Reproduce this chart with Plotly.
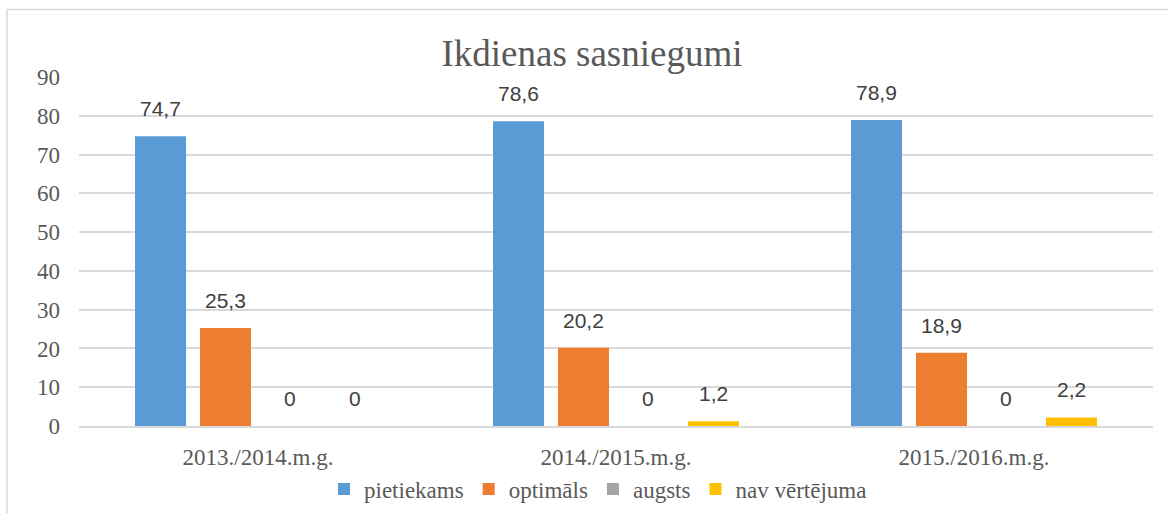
import plotly.graph_objects as go

categories = ["2013./2014.m.g.", "2014./2015.m.g.", "2015./2016.m.g."]
series_names = ["pietiekams", "optimāls", "augsts", "nav vērtējuma"]
pietiekams = [74.7, 78.6, 78.9]
optimals = [25.3, 20.2, 18.9]
augsts = [0, 0, 0]
nav_vertejuma = [0, 1.2, 2.2]
colors = ["#5B9BD5", "#ED7D31", "#A5A5A5", "#FFC000"]
y_ticks = [0, 10, 20, 30, 40, 50, 60, 70, 80, 90]

series = [pietiekams, optimals, augsts, nav_vertejuma]

W, H = 1168, 513
ML, MR, MT, MB = 79, 15, 77, 87
plot_w = W - ML - MR
plot_h = H - MT - MB

fig = go.Figure()
for name, vals, col in zip(series_names, series, colors):
    fig.add_trace(go.Bar(
        x=categories, y=vals, name=name, marker=dict(color=col, line=dict(width=0)),
    ))

# data labels via annotations, offset horizontally to each bar slot
bargap = 0.274
slot = plot_w / len(categories) * (1 - bargap) / len(series)
for i, vals in enumerate(series):
    for c, v in zip(categories, vals):
        fig.add_annotation(
            x=c, y=v, xref="x", yref="y",
            text=(f"{v:g}").replace(".", ","),
            showarrow=False, yanchor="bottom", yshift=14,
            xshift=(i - 1.5) * slot,
            font=dict(family="Liberation Sans", size=21, color="#404040"),
        )

# chart frame (top and left light border)
fx = (7 - ML) / plot_w
fy = (H - MB - 9.5) / plot_h
fig.add_shape(type="line", xref="paper", yref="paper", x0=fx, x1=(W - ML) / plot_w + 0.01,
              y0=fy, y1=fy, line=dict(color="#D9D9D9", width=1.5))
fig.add_shape(type="line", xref="paper", yref="paper", x0=fx, x1=fx,
              y0=fy, y1=-(MB + 5) / plot_h, line=dict(color="#D9D9D9", width=1.5))

serif = "Liberation Serif"
fig.update_layout(
    width=W, height=H,
    margin=dict(l=ML, r=MR, t=MT, b=MB, autoexpand=False),
    paper_bgcolor="white", plot_bgcolor="white",
    barmode="group", bargap=bargap, bargroupgap=0.215,
    title=dict(text="Ikdienas sasniegumi", x=592 / W, xanchor="center",
               y=1 - 53 / H, yanchor="middle", yref="container",
               font=dict(family=serif, size=37, color="#595959")),
    font=dict(family=serif, color="#595959"),
    legend=dict(orientation="h", x=598 / W, xanchor="center", xref="container",
                y=1 - 489 / H, yref="container", yanchor="middle",
                font=dict(family=serif, size=23, color="#595959"),
                tracegroupgap=0, traceorder="normal", bgcolor="rgba(0,0,0,0)"),
    showlegend=True,
)
fig.update_xaxes(showgrid=False, showline=True, linecolor="#D9D9D9", linewidth=1.5,
                 ticks="", tickangle=0, tickfont=dict(family=serif, size=23, color="#595959"),
                 ticklabelstandoff=10)
fig.update_yaxes(range=[0, 90], tickvals=y_ticks, showgrid=True, gridcolor="#D9D9D9",
                 gridwidth=1.5, zeroline=False, showline=False, ticks="",
                 tickfont=dict(family=serif, size=23, color="#595959"),
                 ticklabelstandoff=18)

fig.write_html("out.html", config={"displayModeBar": False},
               post_script="document.body.style.margin='0';")
